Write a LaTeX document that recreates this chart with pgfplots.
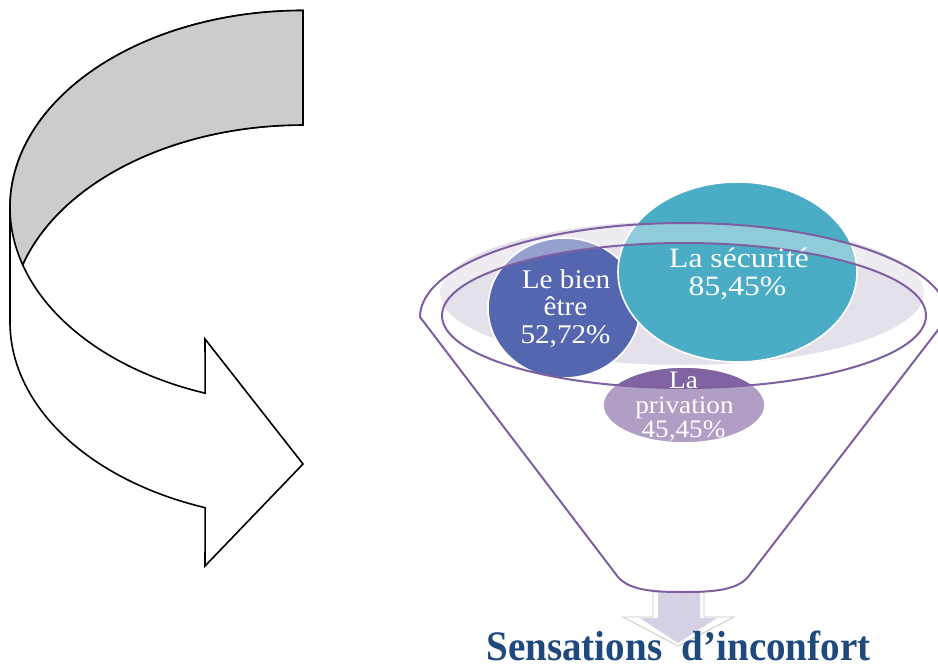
\documentclass[border=0pt]{standalone}
\usepackage{graphicx}
\usepackage{pgfplots}
\pgfplotsset{compat=1.18}
\usepackage{fontspec}
\setmainfont{Liberation Serif}

\definecolor{secu}{HTML}{4BACC6}
\definecolor{bien}{HTML}{5566B0}
\definecolor{priv}{HTML}{8064A2}
\definecolor{funnel}{HTML}{7E60A1}
\definecolor{bgrim}{HTML}{E4E1EA}
\definecolor{arrowfill}{HTML}{D5D0E3}
\definecolor{titleblue}{HTML}{1F497D}

\begin{document}
\begin{tikzpicture}
\begin{axis}[
  scale only axis, width=469pt, height=333pt,
  xmin=0, xmax=938, ymin=0, ymax=666,
  hide axis, clip=true,
]
% ---- curved ribbon arrow on the left ----
\draw[black, line width=0.8pt, fill=white, line join=miter]
  (303,655.5) arc[start angle=90, end angle=180, x radius=293, y radius=197]
  -- (10,344)
  arc[start angle=180, end angle=250.5, x radius=293, y radius=197]
  -- (205,100) -- (303,202) -- (205,327) -- (205.2,272.8)
  arc[start angle=250.5, end angle=196.9, x radius=293, y radius=197]
  arc[start angle=163.1, end angle=90, x radius=293, y radius=197]
  -- cycle;
\draw[black, line width=0.8pt, fill=gray!40]
  (303,655.5) arc[start angle=90, end angle=196.9, x radius=293, y radius=197]
  arc[start angle=163.1, end angle=90, x radius=293, y radius=197]
  -- cycle;

% ---- small arrow under the funnel ----
\draw[gray!45, line width=0.4pt, fill=white]
  (653,74) -- (653,49) -- (623,49) -- (678,20) -- (734,49) -- (704,49) -- (704,74) -- cycle;
\fill[arrowfill]
  (658,74) -- (658,48) -- (640,48) -- (678,23) -- (717,48) -- (700,48) -- (700,74) -- cycle;

% ---- funnel contents ----
\fill[bgrim] (682,373) ellipse[x radius=242, y radius=72];
\draw[white, line width=0.8pt, fill=bien] (564,358) ellipse[x radius=76, y radius=70];
\draw[white, line width=0.8pt, fill=secu] (737.5,394) ellipse[x radius=119.5, y radius=90];
\draw[white, line width=0.8pt, fill=priv] (684,261) ellipse[x radius=81, y radius=38];

% translucent funnel body (rim band and cone, inner opening left clear)
\fill[white, fill opacity=0.38, even odd rule]
  (420,349) arc[start angle=180, end angle=0, x radius=264, y radius=94]
  -- (748,89) .. controls (736,75) and (710,74) .. (683,74)
  .. controls (656,74) and (630,75) .. (618,89) -- cycle
  (684,350.5) ellipse[x radius=242, y radius=72.5];

% funnel outline
\draw[funnel, line width=1pt, line join=round]
  (420,349) arc[start angle=180, end angle=0, x radius=264, y radius=94]
  -- (748,89) .. controls (736,75) and (710,74) .. (683,74)
  .. controls (656,74) and (630,75) .. (618,89) -- cycle;
\draw[funnel, line width=1pt] (684,350.5) ellipse[x radius=242, y radius=72.5];

% ---- labels ----
\begin{scope}[every node/.style={text=white, inner sep=0pt, anchor=base}]
\node[font=\fontsize{14}{14}\selectfont] at (739,399) {\scalebox{1.13}[1]{La sécurité}};
\node[font=\fontsize{14}{14}\selectfont] at (737.5,371) {\scalebox{1.13}[1]{85,45\%}};
\node[font=\fontsize{13.5}{13.5}\selectfont] at (566,378) {\scalebox{1.08}[1]{Le bien}};
\node[font=\fontsize{13.5}{13.5}\selectfont] at (565.5,351) {\scalebox{1.08}[1]{être}};
\node[font=\fontsize{13.5}{13.5}\selectfont] at (565.5,323) {\scalebox{1.08}[1]{52,72\%}};
\node[font=\fontsize{12.6}{12.6}\selectfont] at (683.5,278) {\scalebox{1.08}[1]{La}};
\node[font=\fontsize{12.6}{12.6}\selectfont] at (684.5,253) {\scalebox{1.08}[1]{privation}};
\node[font=\fontsize{12.6}{12.6}\selectfont] at (683.5,229) {\scalebox{1.08}[1]{45,45\%}};
\end{scope}
\node[text=titleblue, inner sep=0pt, anchor=base, font=\fontsize{21}{21}\bfseries]
  at (678.5,5.5) {\scalebox{0.93}[1]{Sensations\hspace{0.5em}d’inconfort}};
\end{axis}
\pgfresetboundingbox
\path (current axis.south west) rectangle (current axis.north east);
\end{tikzpicture}
\end{document}
